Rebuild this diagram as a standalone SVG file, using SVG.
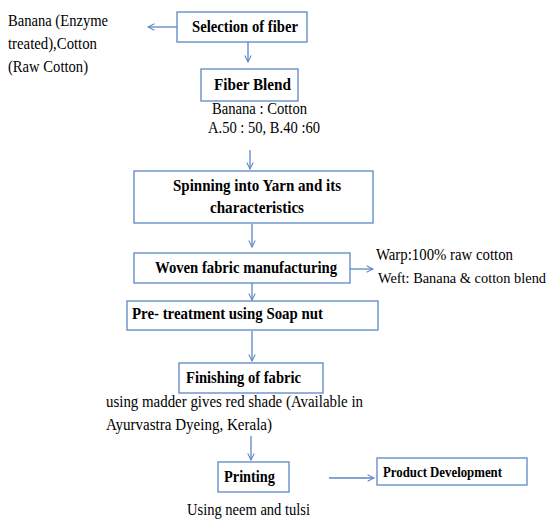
<svg xmlns="http://www.w3.org/2000/svg" width="551" height="519" viewBox="0 0 551 519">
<defs>
<style>
.box{fill:#fff;stroke:#5b87c5;stroke-width:1.3}
text{font-family:'Liberation Serif','Times New Roman',Tinos,'DejaVu Serif',serif;fill:#000;font-size:16px}
.lbl{font-weight:bold}
.sm{font-size:14px}
.con{stroke:#5b87c5;stroke-width:1.3;fill:none}
</style>
<marker id="ah" viewBox="0 0 10 10" refX="9" refY="5" markerWidth="8" markerHeight="8" markerUnits="userSpaceOnUse" orient="auto">
<path d="M1,1 L9,5 L1,9" fill="none" stroke="#5b87c5" stroke-width="1.3"/>
</marker>
</defs>
<rect width="551" height="519" fill="#fff"/>
<g id="connectors">
<line class="con" x1="177" y1="27" x2="148" y2="27" marker-end="url(#ah)"/>
<line class="con" x1="248" y1="42" x2="248" y2="62" marker-end="url(#ah)"/>
<line class="con" x1="250" y1="150" x2="250" y2="169" marker-end="url(#ah)"/>
<line class="con" x1="252" y1="224" x2="252" y2="247" marker-end="url(#ah)"/>
<line class="con" x1="350" y1="269" x2="373" y2="269" marker-end="url(#ah)"/>
<line class="con" x1="252" y1="283" x2="252" y2="300" marker-end="url(#ah)"/>
<line class="con" x1="252" y1="331" x2="252" y2="361" marker-end="url(#ah)"/>
<line class="con" x1="251" y1="436" x2="251" y2="460" marker-end="url(#ah)"/>
<line class="con" x1="329" y1="478" x2="374" y2="478" marker-end="url(#ah)"/>
</g>
<g id="note-source">
<text x="8" y="26" textLength="100" lengthAdjust="spacingAndGlyphs">Banana (Enzyme</text>
<text x="8" y="49" textLength="89" lengthAdjust="spacingAndGlyphs">treated),Cotton</text>
<text x="8" y="72" textLength="80" lengthAdjust="spacingAndGlyphs">(Raw Cotton)</text>
</g>
<g id="selection">
<rect class="box" x="177" y="12" width="130" height="30"/>
<text class="lbl" x="192" y="32" textLength="106" lengthAdjust="spacingAndGlyphs">Selection of fiber</text>
</g>
<g id="blend">
<rect class="box" x="201" y="69" width="97" height="32"/>
<text class="lbl" x="214" y="90" textLength="77" lengthAdjust="spacingAndGlyphs">Fiber Blend</text>
<text x="212" y="114" textLength="95" lengthAdjust="spacingAndGlyphs">Banana : Cotton</text>
<text x="208" y="133" textLength="112" lengthAdjust="spacingAndGlyphs">A.50 : 50, B.40 :60</text>
</g>
<g id="spinning">
<rect class="box" x="134" y="171" width="239" height="52"/>
<text class="lbl" x="173" y="191" textLength="168" lengthAdjust="spacingAndGlyphs">Spinning into Yarn  and its</text>
<text class="lbl" x="210" y="213" textLength="94" lengthAdjust="spacingAndGlyphs">characteristics</text>
</g>
<g id="woven">
<rect class="box" x="134" y="253" width="216" height="30"/>
<text class="lbl" x="155" y="273" textLength="182" lengthAdjust="spacingAndGlyphs">Woven fabric  manufacturing</text>
</g>
<g id="warp-weft">
<text x="376" y="260" textLength="137" lengthAdjust="spacingAndGlyphs">Warp:100% raw cotton</text>
<text x="378" y="283" style="font-size:14.5px" textLength="168" lengthAdjust="spacingAndGlyphs">Weft: Banana &amp; cotton blend</text>
</g>
<g id="pretreatment">
<rect class="box" x="127" y="301" width="251" height="29"/>
<text class="lbl" x="132" y="319" textLength="191" lengthAdjust="spacingAndGlyphs">Pre- treatment using Soap nut</text>
</g>
<g id="finishing">
<rect class="box" x="179" y="363" width="144" height="30"/>
<text class="lbl" x="186" y="383" textLength="115" lengthAdjust="spacingAndGlyphs">Finishing of fabric</text>
<text x="106" y="407" textLength="257" lengthAdjust="spacingAndGlyphs">using madder gives red shade (Available  in</text>
<text x="106" y="430" textLength="166" lengthAdjust="spacingAndGlyphs">Ayurvastra Dyeing,  Kerala)</text>
</g>
<g id="printing">
<rect class="box" x="218" y="462" width="71" height="30"/>
<text class="lbl" x="224" y="482" textLength="51" lengthAdjust="spacingAndGlyphs">Printing</text>
<text x="187" y="515" textLength="123" lengthAdjust="spacingAndGlyphs">Using neem and tulsi</text>
</g>
<g id="product">
<rect class="box" x="377" y="458" width="150" height="27"/>
<text class="lbl sm" x="383" y="477" textLength="119" lengthAdjust="spacingAndGlyphs">Product  Development</text>
</g>
</svg>
